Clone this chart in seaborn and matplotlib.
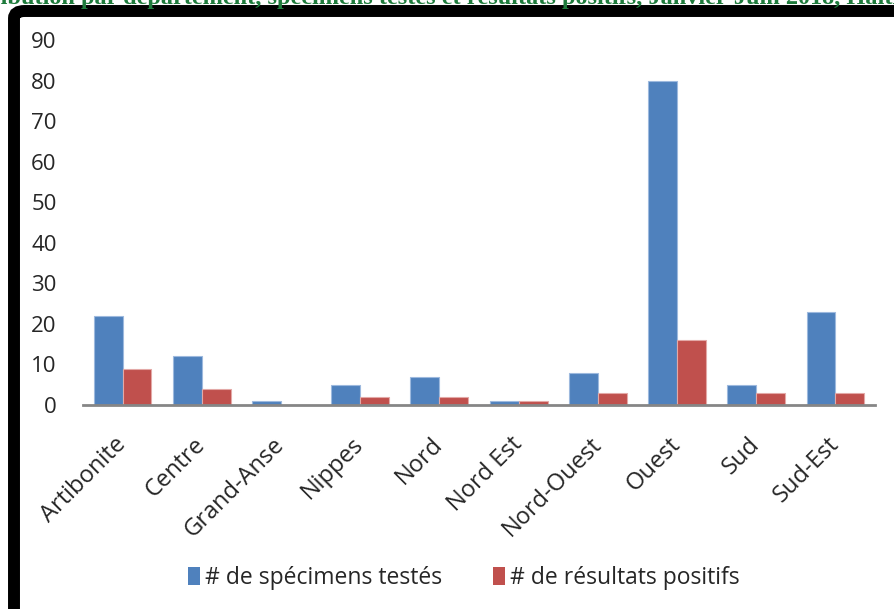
import numpy as np
import pandas as pd
import matplotlib
matplotlib.use("Agg")
import matplotlib.pyplot as plt
import seaborn as sns
from matplotlib.patches import FancyBboxPatch

# données
departements = ["Artibonite", "Centre", "Grand-Anse", "Nippes", "Nord",
                "Nord Est", "Nord-Ouest", "Ouest", "Sud", "Sud-Est"]
testes = [22, 12, 1, 5, 7, 1, 8, 80, 5, 23]
positifs = [9, 4, 0, 2, 2, 1, 3, 16, 3, 3]
series = ["# de spécimens testés", "# de résultats positifs"]
titre = ("Distribution par département, spécimens testés et résultats "
         "positifs, Janvier-Juin 2018, Haïti")

df = pd.DataFrame({
    "departement": departements * 2,
    "valeur": testes + positifs,
    "serie": [series[0]] * len(testes) + [series[1]] * len(positifs),
})

sns.set_style("white")
plt.rcParams["font.family"] = ["Open Sans", "DejaVu Sans"]

fig = plt.figure(figsize=(8.95, 6.09), dpi=100)
ax = fig.add_axes([0.0927, 0.335, 0.885, 0.599])

sns.barplot(data=df, x="departement", y="valeur", hue="serie",
            palette=["#4F81BD", "#C0504D"], saturation=1, width=0.73,
            ax=ax, edgecolor="none", linewidth=0)

# contour clair des barres, comme dans Excel
for patch, ec in zip(ax.patches, ["#9DB9DE"] * 10 + ["#E3A9A7"] * 10):
    patch.set_edgecolor(ec)
    patch.set_linewidth(0.8)

ax.set_ylim(0, 90)
ax.set_yticks(range(0, 91, 10))
ax.set_xlabel("")
ax.set_ylabel("")
ax.tick_params(axis="y", labelsize=16, length=0, pad=19)
ax.tick_params(axis="x", labelsize=17, length=0, pad=26)
plt.setp(ax.get_xticklabels(), rotation=45, ha="right", va="center",
         rotation_mode="anchor")

for s in ["top", "right", "left"]:
    ax.spines[s].set_visible(False)
ax.spines["bottom"].set_color("#868686")
ax.spines["bottom"].set_linewidth(2)

handles, labels = ax.get_legend_handles_labels()
ax.legend_.remove()
fig.legend(handles, labels, loc="center", bbox_to_anchor=(0.518, 0.051),
           ncol=2, frameon=False, fontsize=16.5, handlelength=0.55,
           handleheight=0.8, handletextpad=0.2, columnspacing=2.2)

# cadre noir (partiellement rogné)
fig.patches.append(FancyBboxPatch((14 / 895, -0.2), 1.3, (1 - 11 / 609) + 0.2,
                                  boxstyle="round,pad=0,rounding_size=0.012",
                                  transform=fig.transFigure, fill=False,
                                  edgecolor="black", linewidth=8.6,
                                  zorder=5))

# titre rogné en haut
fig.text(-52 / 895, 1 - 4 / 609, titre, ha="left", va="baseline",
         family="Liberation Serif", fontweight="bold", fontsize=17.5,
         color="#1E7B3C", zorder=6)

fig.savefig("out.png", dpi=100)
